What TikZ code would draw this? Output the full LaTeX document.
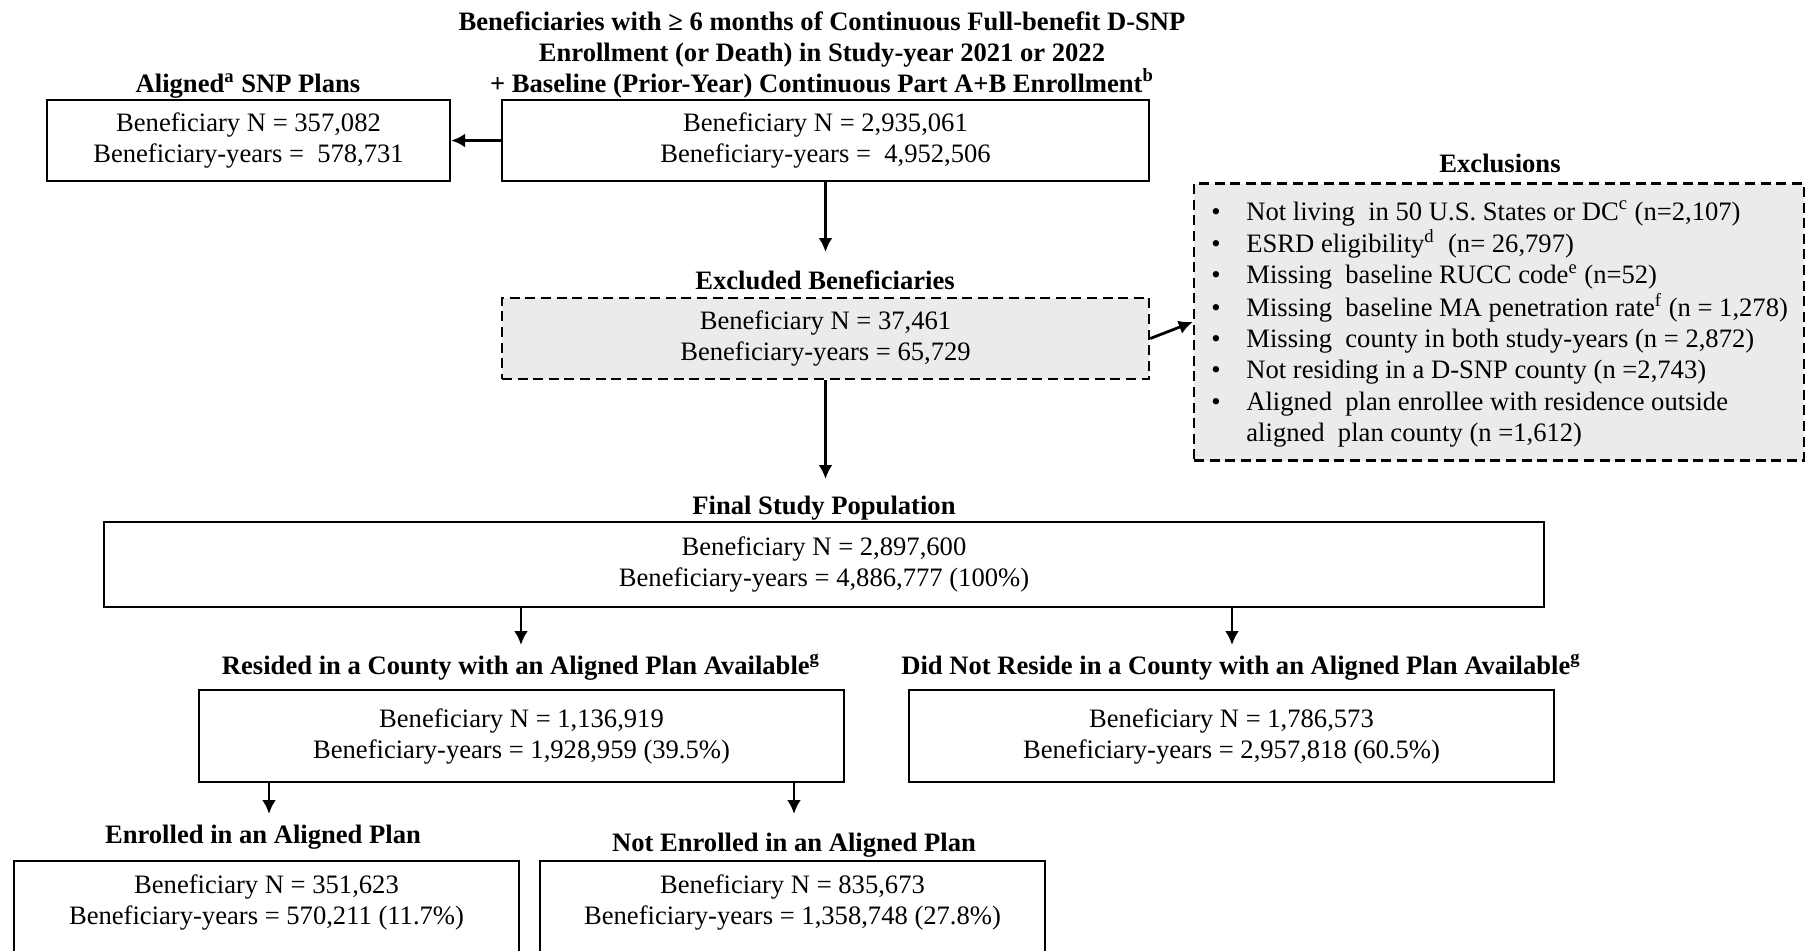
\documentclass[tikz,border=0pt]{standalone}
\usepackage{fontspec}
\setmainfont{Liberation Serif}
\usetikzlibrary{arrows.meta}
\begin{document}
\begin{tikzpicture}[x=0.5pt,y=-0.5pt,
  font=\fontsize{13.3}{15.5}\selectfont,
  box/.style={draw, line width=1.2pt, inner sep=0pt, align=center},
  dbox/.style={draw, line width=1.25pt, dash pattern=on 5pt off 2.8pt, fill=black!8, inner sep=0pt, align=center},
  ttl/.style={font=\fontsize{13.3}{15.5}\selectfont\bfseries, align=center, inner sep=0pt},
  txt/.style={align=center, inner sep=0pt},
  arr/.style={-{Latex[length=7pt,width=7pt]}, line width=1.4pt}]
\path[use as bounding box, clip] (0,0) rectangle (1811,950);

% titles
\node[ttl] (t0) at (822,54.5) {Beneficiaries with ≥ 6 months of Continuous Full-benefit D-SNP\\Enrollment (or Death) in Study-year 2021 or 2022\\+ Baseline (Prior-Year) Continuous Part A+B Enrollment\textsuperscript{b}};
\node[ttl] (talign) at (248,86) {Aligned\textsuperscript{a} SNP Plans};
\node[ttl] (texcl) at (825,280) {Excluded Beneficiaries};
\node[ttl] (texcls) at (1500,163) {Exclusions};
\node[ttl] (tfinal) at (824,508) {Final Study Population};
\node[ttl] (tres) at (521,667) {Resided in a County with an Aligned Plan Available\textsuperscript{g}};
\node[ttl] (tnot) at (1241,667) {Did Not Reside in a County with an Aligned Plan Available\textsuperscript{g}};
\node[ttl] (tenr) at (263,837) {Enrolled in an Aligned Plan};
\node[ttl] (tnenr) at (794,845) {Not Enrolled in an Aligned Plan};

% boxes
\node[box, minimum width=201.5pt, minimum height=40.5pt] (aligned) at (248.5,140.5) {Beneficiary N = 357,082\\Beneficiary-years = \ 578,731};
\node[box, minimum width=323.5pt, minimum height=40.5pt] (top) at (825.5,140.5) {Beneficiary N = 2,935,061\\Beneficiary-years = \ 4,952,506};
\node[dbox, minimum width=323.5pt, minimum height=40.5pt] (excluded) at (825.5,338.5) {Beneficiary N = 37,461\\Beneficiary-years = 65,729};
\node[dbox, minimum width=305pt, minimum height=138.5pt] (exclusions) at (1499,322) {};
\node[inner sep=0pt, anchor=base west, font=\fontsize{13.3}{15.55}\selectfont] (exlist) at (1211,220) {%
\begin{tabular}[t]{@{}p{17.5pt}@{}l@{}}
\textbullet & Not living \ in 50 U.S. States or DC\textsuperscript{c} (n=2,107)\\
\textbullet & ESRD eligibility\textsuperscript{d} \ (n= 26,797)\\
\textbullet & Missing \ baseline RUCC code\textsuperscript{e} (n=52)\\
\textbullet & Missing \ baseline MA penetration rate\textsuperscript{f} (n = 1,278)\\
\textbullet & Missing \ county in both study-years (n = 2,872)\\
\textbullet & Not residing in a D-SNP county (n =2,743)\\
\textbullet & Aligned \ plan enrollee with residence outside\\
 & aligned \ plan county (n =1,612)
\end{tabular}};
\node[box, minimum width=720pt, minimum height=42.5pt] (final) at (824,564.5) {Beneficiary N = 2,897,600\\Beneficiary-years = 4,886,777 (100\%)};
\node[box, minimum width=322.5pt, minimum height=46pt] (resided) at (521.5,736) {Beneficiary N = 1,136,919\\Beneficiary-years = 1,928,959 (39.5\%)};
\node[box, minimum width=322.5pt, minimum height=46pt] (didnot) at (1231.5,736) {Beneficiary N = 1,786,573\\Beneficiary-years = 2,957,818 (60.5\%)};
\node[box, minimum width=252.5pt, minimum height=55pt, anchor=north] (enrolled) at (266.5,860) {};
\node[txt] (enrolledtxt) at (266.5,902.5) {Beneficiary N = 351,623\\Beneficiary-years = 570,211 (11.7\%)};
\node[box, minimum width=252.5pt, minimum height=55pt, anchor=north] (notenrolled) at (792.5,860) {};
\node[txt] (notenrolledtxt) at (792.5,902.5) {Beneficiary N = 835,673\\Beneficiary-years = 1,358,748 (27.8\%)};

% arrow ends
\coordinate (e1) at (825.5,252);
\coordinate (e2) at (825.5,479);
\coordinate (e3) at (521,645);
\coordinate (e4) at (1232,645);
\coordinate (e5) at (269,814);
\coordinate (e6) at (794,814);

\draw[arr] (top.west) -- (aligned.east);
\draw[arr] (top.south) -- (e1);
\draw[arr] (excluded.east) -- (exclusions.west);
\draw[arr] (excluded.south) -- (e2);
\draw[arr] (e3 |- final.south) -- (e3);
\draw[arr] (e4 |- final.south) -- (e4);
\draw[arr] (e5 |- resided.south) -- (e5);
\draw[arr] (e6 |- resided.south) -- (e6);
\end{tikzpicture}
\end{document}
